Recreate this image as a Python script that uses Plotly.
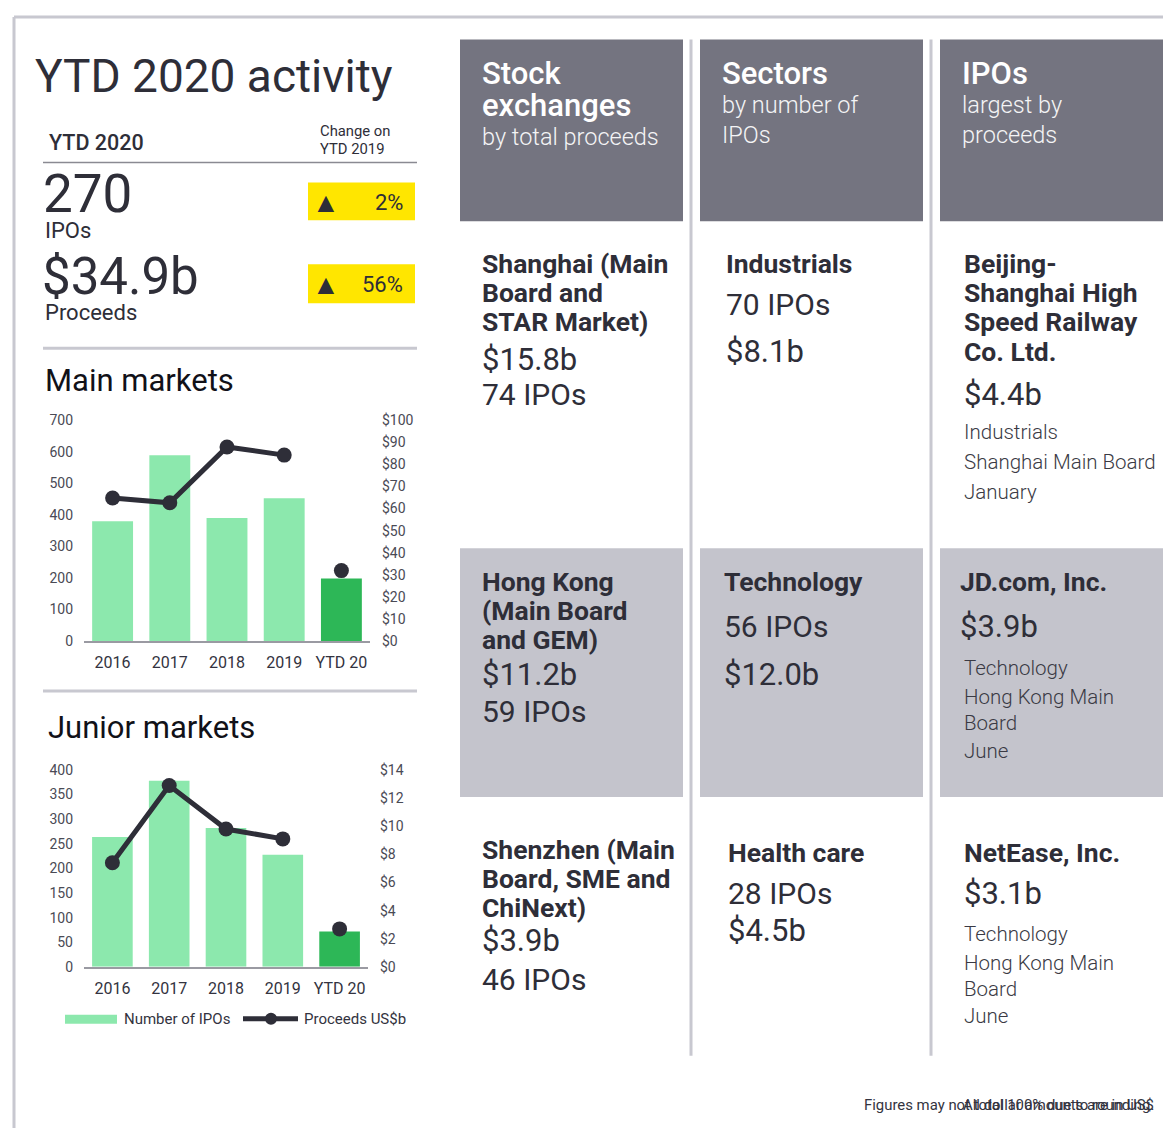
import plotly.graph_objects as go

# empirical page placement compensation: figure appears at x+8, y*0.9865+14.5
OX, OY, KY = 8, 14.5, 0.9865
W, H = 1163, 1128

# ---------------- data ----------------
years = ["2016", "2017", "2018", "2019", "YTD 20"]
main_ipos = [380, 589, 390, 453, 198]
main_proceeds = [64.8, 62.6, 87.9, 84.2, 31.9]
junior_ipos = [264, 378, 282, 228, 72]
junior_proceeds = [7.4, 12.9, 9.8, 9.1, 2.7]

main_left_ticks = list(range(0, 701, 100))
main_right_ticks = list(range(0, 101, 10))
junior_left_ticks = list(range(0, 401, 50))
junior_right_ticks = list(range(0, 15, 2))

headline_ipos = "270"
headline_proceeds = "$34.9b"
change_ipos = "2%"
change_proceeds = "56%"

headers = [
    (["Stock", "exchanges"], ["by total proceeds"]),
    (["Sectors"], ["by number of", "IPOs"]),
    (["IPOs"], ["largest by", "proceeds"]),
]

exchanges = [
    (["Shanghai (Main", "Board and", "STAR Market)"], "$15.8b", "74 IPOs"),
    (["Hong Kong", "(Main Board", "and GEM)"], "$11.2b", "59 IPOs"),
    (["Shenzhen (Main", "Board, SME and", "ChiNext)"], "$3.9b", "46 IPOs"),
]
sectors = [
    ("Industrials", "70 IPOs", "$8.1b"),
    ("Technology", "56 IPOs", "$12.0b"),
    ("Health care", "28 IPOs", "$4.5b"),
]
largest = [
    (["Beijing-", "Shanghai High", "Speed Railway", "Co. Ltd."], "$4.4b",
     ["Industrials", "Shanghai Main Board", "January"]),
    (["JD.com, Inc."], "$3.9b", ["Technology", "Hong Kong Main", "Board", "June"]),
    (["NetEase, Inc."], "$3.1b", ["Technology", "Hong Kong Main", "Board", "June"]),
]

footnotes = ["Figures may not total 100% due to rounding.", "All dollar amounts are in US$"]

# ---------------- style ----------------
FONT = "Roboto"
DARK = "#2e2e38"
TICK = "#4a4a55"
LIGHT_GREEN = "#8ce8ad"
DARK_GREEN = "#2db757"
HEADER_BG = "#747480"
ROW_BG = "#c4c4cc"
RULE = "#c8c8d0"
YELLOW = "#ffe600"


def px(x):
    return (x - OX) / W


def py(y):
    return 1 - ((y - OY) / KY) / H


annotations = []
shapes = []


def txt(x, y, s, size, color=DARK, weight="normal", xanchor="left", box_h=None):
    a = dict(
        x=px(x), y=py(y), xref="paper", yref="paper", text=s, showarrow=False,
        xanchor=xanchor, yanchor="middle",
        font=dict(family=FONT, size=size, color=color, weight=weight))
    if box_h is not None:
        a["height"] = box_h
        a["valign"] = "middle"
    annotations.append(a)


def rect(x0, y0, x1, y1, color):
    shapes.append(dict(type="rect", xref="paper", yref="paper",
                       x0=px(x0), x1=px(x1), y0=py(y1), y1=py(y0),
                       fillcolor=color, line=dict(width=0), layer="below"))


def line(x0, y0, x1, y1, color, width):
    shapes.append(dict(type="line", xref="paper", yref="paper",
                       x0=px(x0), x1=px(x1), y0=py(y0), y1=py(y1),
                       line=dict(color=color, width=width)))


fig = go.Figure()

bar_colors = [LIGHT_GREEN] * (len(years) - 1) + [DARK_GREEN]

# Main markets chart
fig.add_trace(go.Bar(x=years, y=main_ipos, marker=dict(color=bar_colors, line=dict(width=0)),
                     xaxis="x", yaxis="y", showlegend=False))
fig.add_trace(go.Scatter(x=years[:-1], y=main_proceeds[:-1], mode="lines+markers",
                         line=dict(color=DARK, width=5), marker=dict(size=15, color=DARK),
                         xaxis="x", yaxis="y2", showlegend=False))
fig.add_trace(go.Scatter(x=years[-1:], y=main_proceeds[-1:], mode="markers",
                         marker=dict(size=15, color=DARK),
                         xaxis="x", yaxis="y2", showlegend=False))

# Junior markets chart
fig.add_trace(go.Bar(x=years, y=junior_ipos, marker=dict(color=bar_colors, line=dict(width=0)),
                     xaxis="x2", yaxis="y3", showlegend=False))
fig.add_trace(go.Scatter(x=years[:-1], y=junior_proceeds[:-1], mode="lines+markers",
                         line=dict(color=DARK, width=5), marker=dict(size=15, color=DARK),
                         xaxis="x2", yaxis="y4", showlegend=False))
fig.add_trace(go.Scatter(x=years[-1:], y=junior_proceeds[-1:], mode="markers",
                         marker=dict(size=15, color=DARK),
                         xaxis="x2", yaxis="y4", showlegend=False))

xcommon = dict(showgrid=False, zeroline=False, showline=True, linecolor="#9a9aa2", linewidth=2,
               tickfont=dict(family=FONT, size=16, color="#333340"), ticks="",
               ticklabelstandoff=6, fixedrange=True)
ycommon = dict(showgrid=False, zeroline=False, showline=False,
               tickfont=dict(family=FONT, size=14, color=TICK), ticks="", fixedrange=True)

fig.update_layout(
    width=W, height=H, margin=dict(l=0, r=0, t=0, b=0),
    paper_bgcolor="white", plot_bgcolor="rgba(0,0,0,0)",
    bargap=0.285,
    xaxis=dict(domain=[px(84), px(370)], anchor="y", **xcommon),
    yaxis=dict(domain=[py(640), py(419)], range=[0, 700], tickvals=main_left_ticks,
               anchor="x", ticklabelstandoff=10, **ycommon),
    yaxis2=dict(domain=[py(640), py(419)], range=[0, 100], tickvals=main_right_ticks,
                ticktext=[f"${v}" for v in main_right_ticks], overlaying="y", side="right",
                anchor="x", ticklabelstandoff=11, **ycommon),
    xaxis2=dict(domain=[px(84), px(368)], anchor="y3", **xcommon),
    yaxis3=dict(domain=[py(966), py(769)], range=[0, 400], tickvals=junior_left_ticks,
                anchor="x2", ticklabelstandoff=10, **ycommon),
    yaxis4=dict(domain=[py(966), py(769)], range=[0, 14], tickvals=junior_right_ticks,
                ticktext=[f"${v}" for v in junior_right_ticks], overlaying="y3", side="right",
                anchor="x2", ticklabelstandoff=11, **ycommon),
)

# ---------------- frame ----------------
line(14, 15.5, 1171, 15.5, RULE, 3)
line(14, 15.5, 14, 1128, RULE, 3)

# ---------------- left panel ----------------
txt(33, 75, "YTD 2020 activity", 46)
txt(47, 141, "YTD 2020", 21.5, weight=500)
txt(318, 130, "Change on", 14.8)
txt(318, 148, "YTD 2019", 14.8)
line(43, 161, 417, 161, "#8a8a92", 1.5)

txt(41, 193, headline_ipos, 53, box_h=48)
txt(43, 229, "IPOs", 22, box_h=22)
rect(308, 181, 415, 219, YELLOW)
txt(326, 201, "▲", 28, xanchor="center")
txt(405, 201, change_ipos, 22, xanchor="right")

txt(40, 275, headline_proceeds, 51, box_h=48)
txt(43, 311, "Proceeds", 22, box_h=22)
rect(308, 263, 415, 302, YELLOW)
txt(326, 283, "▲", 28, xanchor="center")
txt(405, 283, change_proceeds, 22, xanchor="right")

line(43, 347, 417, 347, RULE, 3)
txt(43, 379, "Main markets", 31, color="#111118")
line(43, 690, 417, 690, RULE, 3)
txt(46, 726, "Junior markets", 31, color="#111118")

# legend
rect(65, 1014, 117, 1023, LIGHT_GREEN)
txt(122, 1018, "Number of IPOs", 15, color="#333340")
line(243, 1018, 298, 1018, DARK, 5)
shapes.append(dict(type="circle", xref="paper", yref="paper",
                   x0=px(265), x1=px(277), y0=py(1024), y1=py(1012),
                   fillcolor=DARK, line=dict(width=0)))
txt(302, 1018, "Proceeds US$b", 15, color="#333340")

# ---------------- right panel ----------------
col_x = [460, 700, 940]
col_w = 223
for cx in col_x:
    rect(cx, 38, cx + col_w, 220, HEADER_BG)
    rect(cx, 547, cx + col_w, 796, ROW_BG)
line(691, 38, 691, 1055, RULE, 3)
line(931, 38, 931, 1055, RULE, 3)

for (titles, subs), cx in zip(headers, col_x):
    y = 72
    for t in titles:
        txt(cx + 20, y, t, 31, color="white", weight=500)
        y += 32
    if len(titles) == 1:
        y = 104
    for s in subs:
        txt(cx + 20, y, s, 23.5, color="#f4f4f6", weight=300)
        y += 30

NAME = 26.5
NUM = 30
VAL = 31
DET = 20.5

# exchanges column
ex_tops = [262, 580, 849]
ex_val_y = [(358, 393), (673, 710), (940, 979)]
for (names, val, cnt), ty, (vy, cy) in zip(exchanges, ex_tops, ex_val_y):
    for i, n in enumerate(names):
        txt(480, ty + 29 * i, n, NAME, weight="bold")
    txt(480, vy, val, VAL)
    txt(480, cy, cnt, NUM)

# sectors column
sec_pos = [(724, 262, 303, 350), (722, 580, 625, 673), (726, 852, 893, 930)]
for (name, cnt, val), (sx, ny, cy, vy) in zip(sectors, sec_pos):
    txt(sx, ny, name, NAME, weight="bold")
    txt(sx, cy, cnt, NUM)
    txt(sx, vy, val, VAL)

# largest IPOs column
lg_pos = [
    (962, 262, 393, [431, 461, 491]),
    (958, 580, 625, [667, 696, 722, 750]),
    (962, 852, 893, [933, 962, 988, 1015]),
]
for (names, val, details), (lx, ny, vy, dys) in zip(largest, lg_pos):
    for i, n in enumerate(names):
        txt(lx, ny + 29.3 * i, n, NAME, weight="bold")
    txt(lx, vy, val, VAL)
    for d, dy in zip(details, dys):
        txt(lx + (4 if lx == 958 else 0), dy, d, DET, color="#3a3a44", weight=300)

# footer (overlapping notes as in the source)
for note in footnotes:
    txt(1156, 1104, note, 14.9, color="#333340", xanchor="right")

fig.update_layout(annotations=annotations, shapes=shapes)
fig.write_html("out.html")
